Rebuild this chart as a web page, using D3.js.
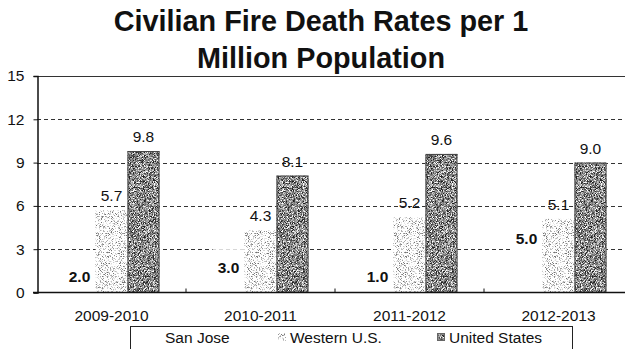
<!DOCTYPE html>
<html>
<head>
<meta charset="utf-8">
<script src="https://cdn.jsdelivr.net/npm/d3@7"></script>
<style>
  html, body { margin: 0; padding: 0; background: #fff; }
  svg { display: block; font-family: "Liberation Sans", Arial, sans-serif; }
</style>
</head>
<body>
<svg id="chart" width="625" height="349"></svg>
<script>
// Fire death rates per one million population, by fiscal year
const years = ["2009-2010", "2010-2011", "2011-2012", "2012-2013"];
const seriesNames = ["San Jose", "Western U.S.", "United States"];
const sanJose = [2.0, 3.0, 1.0, 5.0];
const westernUS = [5.7, 4.3, 5.2, 5.1];
const unitedStates = [9.8, 8.1, 9.6, 9.0];
const yTicks = [0, 3, 6, 9, 12, 15];
const titleLines = ["Civilian Fire Death Rates per 1", "Million Population"];

const seriesValues = [sanJose, westernUS, unitedStates];
const rows = years.map((yr, i) => ({
  year: yr,
  values: seriesNames.map((s, j) => ({ series: s, value: seriesValues[j][i] }))
}));

const svg = d3.select("#chart");

// Speckled fills built from noise: grey = slope*noise + intercept, then squeezed into [lo, 1]
const defs = svg.append("defs");
function speckle(id, slope, intercept, lo, freq, seed) {
  const f = defs.append("filter").attr("id", id)
    .attr("x", 0).attr("y", 0).attr("width", "100%").attr("height", "100%")
    .attr("color-interpolation-filters", "sRGB");
  f.append("feTurbulence").attr("type", "fractalNoise")
    .attr("baseFrequency", freq).attr("numOctaves", 3).attr("seed", seed).attr("result", "noise");
  const v = `${slope} 0 0 0 ${intercept}  ${slope} 0 0 0 ${intercept}  ${slope} 0 0 0 ${intercept}  0 0 0 0 1`;
  f.append("feColorMatrix").attr("in", "noise").attr("type", "matrix").attr("values", v).attr("result", "g1");
  const ct = f.append("feComponentTransfer").attr("in", "g1").attr("result", "gray");
  ["feFuncR", "feFuncG", "feFuncB"].forEach(fn =>
    ct.append(fn).attr("type", "linear").attr("slope", 1 - lo).attr("intercept", lo));
  f.append("feComposite").attr("in", "gray").attr("in2", "SourceGraphic").attr("operator", "in");
}
speckle("speckle-light", 5.0, -1.35, 0.45, 1.1, 7);
speckle("speckle-dark", 2.4, -0.72, 0.12, 1.2, 3);

const x0 = d3.scaleBand().domain(years).range([37, 633]).paddingInner(0).paddingOuter(0);
const x1 = d3.scaleBand().domain(seriesNames).range([0, x0.bandwidth()])
  .paddingInner(0).paddingOuter(0.83);
const y = d3.scaleLinear().domain([0, 15]).range([292.5, 76]);

// Title
svg.append("g").selectAll("text").data(titleLines).join("text")
  .attr("x", 321).attr("y", (d, i) => 30.5 + i * 37)
  .attr("text-anchor", "middle")
  .attr("font-size", 28.8).attr("font-weight", "bold").attr("fill", "#111")
  .text(d => d);

// Gridlines
svg.append("g").selectAll("line").data(yTicks.filter(t => t > 0)).join("line")
  .attr("x1", 37).attr("x2", 625)
  .attr("y1", d => Math.round(y(d)) + 0.5).attr("y2", d => Math.round(y(d)) + 0.5)
  .attr("stroke", "#333").attr("stroke-width", 1)
  .attr("stroke-dasharray", d => d === 15 ? null : "4,3");

// Y axis
const yAxis = svg.append("g").attr("transform", "translate(37.5,0)")
  .call(d3.axisLeft(y).tickValues(yTicks).tickSize(4).tickPadding(9).tickFormat(d3.format("d")));
yAxis.select(".domain").attr("stroke", "#111").attr("stroke-width", 1.5);
yAxis.selectAll(".tick line").attr("stroke", "#111");
yAxis.selectAll(".tick text").attr("font-size", 15.5).attr("fill", "#111")
  .attr("font-family", "'Liberation Sans', Arial, sans-serif");

// Bars
const groups = svg.append("g").selectAll("g").data(rows).join("g")
  .attr("transform", d => `translate(${x0(d.year)},0)`);

groups.selectAll("rect").data(d => d.values).join("rect")
  .attr("x", d => x1(d.series))
  .attr("y", d => y(d.value))
  .attr("width", x1.bandwidth())
  .attr("height", d => y(0) - y(d.value))
  .attr("fill", d => d.series === "San Jose" ? "#fff" : "#000")
  .attr("filter", d => d.series === "Western U.S." ? "url(#speckle-light)"
    : d.series === "United States" ? "url(#speckle-dark)" : null);

// Outline for the dark bars
groups.selectAll("rect.edge").data(d => d.values.filter(v => v.series === "United States")).join("rect")
  .attr("class", "edge")
  .attr("x", d => x1(d.series) + 0.5)
  .attr("y", d => y(d.value) + 0.5)
  .attr("width", x1.bandwidth() - 1)
  .attr("height", d => y(0) - y(d.value) - 1)
  .attr("fill", "none").attr("stroke", "#444").attr("stroke-width", 1);

// Value labels
groups.selectAll("text").data(d => d.values).join("text")
  .attr("x", d => x1(d.series) + x1.bandwidth() / 2)
  .attr("y", d => d.series === "San Jose"
    ? Math.min(y(d.value) + 18, y(0) - 16) + 5.5
    : y(d.value) - 9)
  .attr("text-anchor", "middle")
  .attr("font-size", 15.5)
  .attr("font-weight", d => d.series === "San Jose" ? "bold" : "normal")
  .attr("fill", "#111")
  .text(d => d3.format(".1f")(d.value));

// X axis
const xAxis = svg.append("g").attr("transform", `translate(0,${y(0)})`)
  .call(d3.axisBottom(x0).tickSize(0).tickPadding(17));
xAxis.select(".domain").remove();
xAxis.selectAll(".tick text").attr("font-size", 15.5).attr("fill", "#111")
  .attr("font-family", "'Liberation Sans', Arial, sans-serif");
svg.append("line").attr("x1", 33).attr("x2", 625).attr("y1", y(0)).attr("y2", y(0))
  .attr("stroke", "#111").attr("stroke-width", 1.5);
svg.append("g").selectAll("line").data(years.slice(1)).join("line")
  .attr("x1", d => x0(d)).attr("x2", d => x0(d))
  .attr("y1", y(0)).attr("y2", y(0) - 4)
  .attr("stroke", "#111");

// Legend
const legend = svg.append("g");
legend.append("rect").attr("x", 130.5).attr("y", 326.5).attr("width", 442).attr("height", 40)
  .attr("fill", "#fff").attr("stroke", "#222").attr("stroke-width", 1);
const legendX = [165, 290, 449];
const items = legend.selectAll("g.item").data(seriesNames).join("g").attr("class", "item")
  .attr("transform", (d, i) => `translate(${legendX[i]},0)`);
items.append("rect")
  .attr("x", -12).attr("y", 333).attr("width", 8).attr("height", 8)
  .attr("fill", (d, i) => i === 0 ? "#fff" : "#000")
  .attr("filter", (d, i) => i === 1 ? "url(#speckle-light)" : i === 2 ? "url(#speckle-dark)" : null);
items.filter((d, i) => i === 2).append("rect")
  .attr("x", -11.5).attr("y", 333.5).attr("width", 7).attr("height", 7)
  .attr("fill", "none").attr("stroke", "#666");
items.append("text").attr("x", 0).attr("y", 343)
  .attr("font-size", 15.5).attr("fill", "#111").text(d => d);
</script>
</body>
</html>
